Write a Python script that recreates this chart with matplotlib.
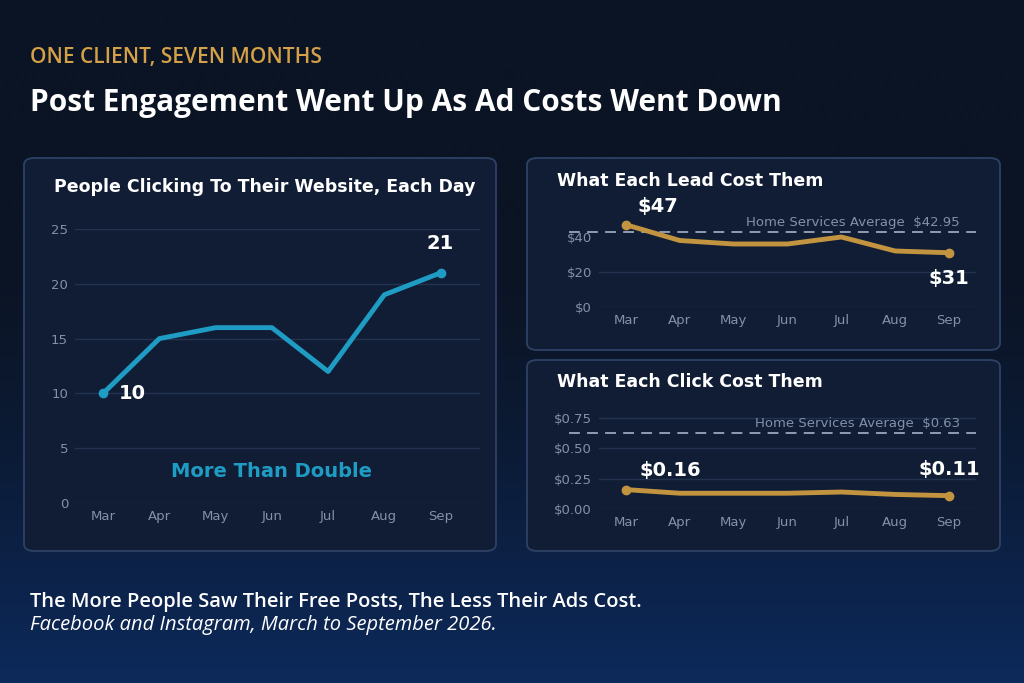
import numpy as np
import matplotlib.pyplot as plt
from matplotlib.patches import FancyBboxPatch

months = ['Mar', 'Apr', 'May', 'Jun', 'Jul', 'Aug', 'Sep']
clicks = [10, 15, 16, 16, 12, 19, 21]
lead_cost = [47, 38, 36, 36, 40, 32, 31]
click_cost = [0.16, 0.13, 0.13, 0.13, 0.14, 0.12, 0.11]
lead_avg = 42.95
click_avg = 0.63

BLUE = '#1f9cc4'
GOLD = '#c29440'
TICK = '#8391a8'
GRID = '#22324f'
FONT = 'Open Sans'

fig = plt.figure(figsize=(10.24, 6.83), dpi=100)

# background gradient
bg = fig.add_axes([0, 0, 1, 1], zorder=-10)
grad = np.linspace(0, 1, 512)[:, None]
top = np.array([11, 20, 36]) / 255
bot = np.array([13, 42, 92]) / 255
w = np.clip((grad - 0.35) / 0.65, 0, 1) ** 1.5
img = top + (bot - top) * w[..., None]
bg.imshow(img, aspect='auto', extent=[0, 1, 0, 1], interpolation='bilinear')
bg.axis('off')


def panel(x0, y0, x1, y1):
    p = FancyBboxPatch((x0 / 1024, 1 - y1 / 683), (x1 - x0) / 1024, (y1 - y0) / 683,
                       boxstyle='round,pad=0,rounding_size=0.01',
                       transform=fig.transFigure, facecolor='#111d35',
                       edgecolor='#2e4266', linewidth=1.3, zorder=-5)
    fig.patches.append(p)


panel(24, 158, 496, 551)
panel(527, 158, 1000, 350)
panel(527, 360, 1000, 551)


def style(ax, yticks, ylabels):
    ax.set_facecolor('none')
    for s in ax.spines.values():
        s.set_visible(False)
    ax.set_xlim(-0.5, 6.5)
    ax.set_xticks(range(len(months)))
    ax.set_xticklabels(months)
    ax.set_yticks(yticks)
    ax.set_yticklabels(ylabels)
    ax.tick_params(colors=TICK, labelsize=9.5, length=0, pad=5)
    ax.grid(axis='y', color=GRID, linewidth=1)
    ax.set_axisbelow(True)


x = np.arange(len(months))

# left panel
ax1 = fig.add_axes([75 / 1024, 1 - 503 / 683, 405 / 1024, 274 / 683])
ax1.set_xlim(-0.5, 6.7)
ax1.plot(x, clicks, color=BLUE, lw=3.5, solid_capstyle='round', solid_joinstyle='round')
ax1.plot([x[0], x[-1]], [clicks[0], clicks[-1]], 'o', color=BLUE, ms=6)
ax1.set_ylim(0, 25)
style(ax1, range(0, 26, 5), [str(v) for v in range(0, 26, 5)])
ax1.set_xlim(-0.5, 6.7)
ax1.annotate(str(clicks[0]), (x[0], clicks[0]), xytext=(11, 0), textcoords='offset points',
             color='white', fontsize=14, fontweight='bold', va='center')
ax1.annotate(str(clicks[-1]), (x[-1], clicks[-1]), xytext=(0, 17), textcoords='offset points',
             color='white', fontsize=14, fontweight='bold', ha='center')
ax1.text(3, 2.4, 'More Than Double', color=BLUE, fontsize=14, fontweight='bold', ha='center')
fig.text(54 / 1024, 1 - 187 / 683, 'People Clicking To Their Website, Each Day',
         color='white', fontsize=12.5, fontweight='bold', va='center')

# right top
ax2 = fig.add_axes([599 / 1024, 1 - 307 / 683, 377 / 1024, 87.5 / 683])
ax2.plot(x, lead_cost, color=GOLD, lw=3.5, solid_capstyle='round')
ax2.plot([x[0], x[-1]], [lead_cost[0], lead_cost[-1]], 'o', color=GOLD, ms=6)
ax2.axhline(lead_avg, color='#9aa6bb', ls=(0, (6, 4)), lw=1.3, xmin=-0.08, clip_on=False, zorder=1)
ax2.text(6.2, lead_avg + 1.5, f'Home Services Average  ${lead_avg:.2f}', color=TICK,
         fontsize=9.5, ha='right', va='bottom')
ax2.set_ylim(0, 50)
style(ax2, [0, 20, 40], ['$0', '$20', '$40'])
ax2.grid(False)
for v in [0, 20]:
    ax2.axhline(v, color=GRID, lw=1, zorder=0)
ax2.annotate(f'${lead_cost[0]}', (x[0], lead_cost[0]), xytext=(8, 6), textcoords='offset points',
             color='white', fontsize=14, fontweight='bold', va='bottom')
ax2.annotate(f'${lead_cost[-1]}', (x[-1], lead_cost[-1]), xytext=(0, -12), textcoords='offset points',
             color='white', fontsize=14, fontweight='bold', ha='center', va='top')
fig.text(557 / 1024, 1 - 181 / 683, 'What Each Lead Cost Them',
         color='white', fontsize=12.5, fontweight='bold', va='center')

# right bottom
ax3 = fig.add_axes([599 / 1024, 1 - 509 / 683, 377 / 1024, 97 / 683])
ax3.plot(x, click_cost, color=GOLD, lw=3.5, solid_capstyle='round')
ax3.plot([x[0], x[-1]], [click_cost[0], click_cost[-1]], 'o', color=GOLD, ms=6)
ax3.axhline(click_avg, color='#9aa6bb', ls=(0, (6, 4)), lw=1.3, xmin=-0.08, clip_on=False, zorder=1)
ax3.text(6.2, click_avg + 0.02, f'Home Services Average  ${click_avg:.2f}', color=TICK,
         fontsize=9.5, ha='right', va='bottom')
ax3.set_ylim(0, 0.8)
style(ax3, [0, 0.25, 0.5, 0.75], ['$0.00', '$0.25', '$0.50', '$0.75'])
ax3.annotate(f'${click_cost[0]:.2f}', (x[0], click_cost[0]), xytext=(10, 7), textcoords='offset points',
             color='white', fontsize=14, fontweight='bold', va='bottom')
ax3.annotate(f'${click_cost[-1]:.2f}', (x[-1], click_cost[-1]), xytext=(0, 12), textcoords='offset points',
             color='white', fontsize=14, fontweight='bold', ha='center', va='bottom')
fig.text(557 / 1024, 1 - 382 / 683, 'What Each Click Cost Them',
         color='white', fontsize=12.5, fontweight='bold', va='center')

# titles and footer
fig.text(30 / 1024, 1 - 57 / 683, 'ONE CLIENT, SEVEN MONTHS', color='#d4a048',
         fontsize=15, fontweight='semibold', family=FONT, va='center')
fig.text(30 / 1024, 1 - 103 / 683, 'Post Engagement Went Up As Ad Costs Went Down', color='white',
         fontsize=21.5, fontweight='bold', family=FONT, va='center')
fig.text(30 / 1024, 1 - 602 / 683, 'The More People Saw Their Free Posts, The Less Their Ads Cost.',
         color='white', fontsize=14.5, fontweight='semibold', family=FONT, va='center')
fig.text(30 / 1024, 1 - 625 / 683, 'Facebook and Instagram, March to September 2026.',
         color='white', fontsize=14.5, style='italic', family=FONT, va='center')

fig.savefig('out.png', dpi=100)
